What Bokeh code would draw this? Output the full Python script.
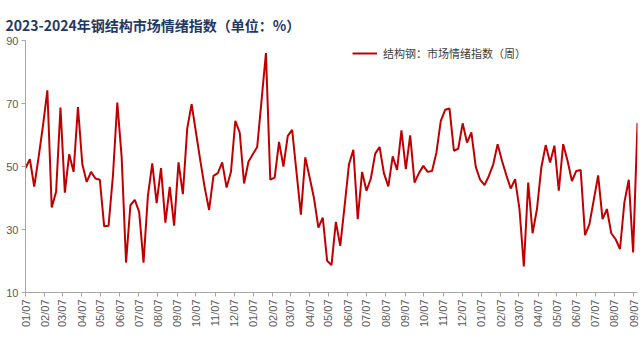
import math
import pandas as pd
from bokeh.plotting import figure
from bokeh.models import Range1d, FixedTicker, DatetimeTickFormatter, Legend, LegendItem, ColumnDataSource
from bokeh.embed import file_html
from bokeh.resources import INLINE

# Weekly market sentiment index for structural steel (%)
values_2022 = [49.5, 52.3, 43.6, 53.0, 63.0, 74.2, 37.0, 42.0, 68.7, 41.7, 53.9, 48.3,
               68.9, 50.7, 45.1, 48.3, 46.2, 45.8, 31.0, 31.2, 47.0, 70.3, 52.9, 19.5,
               37.7, 39.4, 35.6, 19.5, 40.7, 51.0, 38.4, 49.5, 32.2, 43.5, 31.2, 51.3,
               41.2, 62.1, 69.8, 60.8, 51.8, 43.3, 36.2, 47.0, 47.9, 51.3, 43.3, 48.3,
               64.5, 60.8, 44.6, 51.5]
values_2023 = [53.9, 56.2, 71.0, 86.0, 45.8, 46.5, 57.8, 50.0, 59.7, 61.6, 48.1, 34.7,
               52.9, 46.5, 39.9, 30.6, 33.8, 20.1, 18.7, 32.4, 24.8, 37.5, 50.7, 55.3,
               33.3, 48.3, 42.3, 46.2, 54.1, 56.2, 47.8, 43.7, 53.2, 48.9, 61.5, 49.2,
               59.9, 44.9, 47.9, 50.2, 48.3, 48.6, 54.4, 64.5, 68.0, 68.4, 55.0, 55.7,
               63.7, 57.6, 60.8, 49.9]
values_2024 = [45.8, 44.1, 47.0, 50.7, 57.1, 51.8, 47.2, 43.0, 46.0, 36.5, 18.3, 44.9,
               28.8, 36.5, 49.7, 56.8, 51.3, 56.6, 42.3, 57.1, 51.8, 45.4, 48.6, 48.9,
               28.2, 31.7, 39.4, 47.2, 33.3, 36.5, 28.8, 26.9, 23.8, 38.6, 45.8, 22.7,
               63.8]

series = values_2022 + values_2023 + values_2024
first_week = "2022-01-07"
dates = pd.date_range(first_week, periods=len(series), freq="7D")
tick_dates = pd.date_range("2022-01-07", "2024-09-07", freq=pd.DateOffset(months=1))
y_ticks = [10, 30, 50, 70, 90]

title_text = "2023-2024年钢结构市场情绪指数（单位：%）"
legend_text = "结构钢：市场情绪指数（周）"

source = ColumnDataSource(dict(date=dates, value=series))

p = figure(width=640, height=353, x_axis_type="datetime", output_backend="svg",
           toolbar_location=None,
           x_range=Range1d(dates[0], dates[-1]), y_range=Range1d(10, 90),
           min_border_left=25, min_border_right=3, min_border_top=40, min_border_bottom=61)

p.title.text = title_text
p.title.text_font = "Noto Sans CJK SC"
p.title.text_font_size = "14px"
p.title.text_font_style = "bold"
p.title.text_color = "#1F3864"
p.title.offset = -20
p.title.standoff = 12

p.outline_line_color = None
p.grid.visible = False
p.background_fill_color = "white"

r = p.line("date", "value", source=source, line_color="#C00000", line_width=2)

axis_color = "#A6A6A6"
label_color = "#595959"

p.yaxis.ticker = FixedTicker(ticks=y_ticks)
p.yaxis.major_label_text_font = "Liberation Sans"
p.yaxis.major_label_text_font_size = "11px"
p.yaxis.major_label_text_color = label_color
p.yaxis.axis_line_color = axis_color
p.yaxis.major_tick_line_color = axis_color
p.yaxis.major_tick_out = 4
p.yaxis.major_tick_in = 0
p.yaxis.minor_tick_line_color = None
p.yaxis.major_label_standoff = 3

tick_ms = [t.timestamp() * 1000 for t in tick_dates]
p.xaxis.ticker = FixedTicker(ticks=tick_ms)
fmt = "%m/%d"
p.xaxis.formatter = DatetimeTickFormatter(milliseconds=fmt, seconds=fmt, minsec=fmt, minutes=fmt,
                                          hourmin=fmt, hours=fmt, days=fmt, months=fmt, years=fmt)
p.xaxis.major_label_orientation = math.pi / 2
p.xaxis.major_label_text_font = "Liberation Sans"
p.xaxis.major_label_text_font_size = "11px"
p.xaxis.major_label_text_color = label_color
p.xaxis.axis_line_color = axis_color
p.xaxis.major_tick_line_color = axis_color
p.xaxis.major_tick_out = 4
p.xaxis.major_tick_in = 0
p.xaxis.minor_tick_line_color = None
p.xaxis.major_label_standoff = 3

legend = Legend(items=[LegendItem(label=legend_text, renderers=[r])],
                location=(327, 229), orientation="horizontal",
                border_line_color=None, background_fill_alpha=0,
                label_text_font="Noto Sans CJK SC", label_text_font_size="11px",
                label_text_color="#404040", glyph_width=25, glyph_height=20,
                label_standoff=6, padding=0, margin=0, spacing=0)
p.add_layout(legend)

open("out.html", "w").write(file_html(p, INLINE))
